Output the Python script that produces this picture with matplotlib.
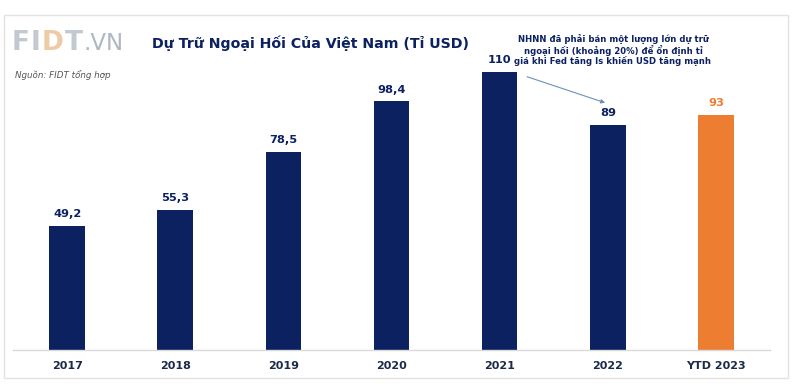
import matplotlib
matplotlib.use("Agg")
import matplotlib.pyplot as plt
from matplotlib.patches import Rectangle

categories = ["2017", "2018", "2019", "2020", "2021", "2022", "YTD 2023"]
values = [49.2, 55.3, 78.5, 98.4, 110, 89, 93]
labels = ["49,2", "55,3", "78,5", "98,4", "110", "89", "93"]
NAVY = "#0b2160"
ORANGE = "#ed7d31"
colors = [NAVY] * 6 + [ORANGE]

plt.rcParams['font.family'] = ['DejaVu Sans']
fig = plt.figure(figsize=(8, 3.86), dpi=100)
W, H = 800, 386

# outer frame
fig.patches.append(Rectangle((4/W, 1 - 378/H), (788-4)/W, (378-15)/H,
                             transform=fig.transFigure, fill=False,
                             edgecolor="#e3e3e3", linewidth=1.0))

ax = fig.add_axes([13/W, 36/H, (770-13)/W, 310/H])
x = list(range(len(categories)))
ax.bar(x, values, width=0.33, color=colors)
ax.set_xlim(-0.5, 6.5)
ax.set_ylim(0, 122.7)
for s in ["top", "right", "left"]:
    ax.spines[s].set_visible(False)
ax.spines["bottom"].set_color("#d9d9d9")
ax.spines["bottom"].set_linewidth(1.0)
ax.set_yticks([])
ax.set_xticks(x)
ax.set_xticklabels(categories, fontsize=8, fontweight="bold", color="#1a2a4a")
ax.tick_params(axis="x", length=0, pad=8)

for i, (v, lab, c) in enumerate(zip(values, labels, colors)):
    ax.text(i, v + 2.7, lab, ha="center", va="bottom", fontsize=8.2,
            fontweight="bold", color=NAVY if c == NAVY else ORANGE)

# annotation
ax.annotate("", xy=(5, values[5] + 8.5), xytext=(4.23, values[4] - 1.5),
            arrowprops=dict(arrowstyle="-|>", color="#6f8fb5", lw=0.8,
                            mutation_scale=6))
fig.text(613/W, 1 - 50/H,
         "NHNN đã phải bán một lượng lớn dự trữ\nngoại hối (khoảng 20%) để ổn định tỉ\ngiá khi Fed tăng ls khiến USD tăng mạnh",
         ha="center", va="center", fontsize=6.1, fontweight="bold", color=NAVY,
         linespacing=1.1)

# title
fig.text(311/W, 1 - 43/H, "Dự Trữ Ngoại Hối Của Việt Nam (Tỉ USD)",
         ha="center", va="center", fontsize=10.2, fontweight="bold", color=NAVY)

# logo (pieces placed one after another)
renderer = fig.canvas.get_renderer()
pieces = [("F", "#c2c9d1", "bold", 19), ("I", "#c2c9d1", "bold", 19),
          ("D", "#efcaa6", "bold", 19), ("T", "#c2c9d1", "bold", 19),
          (".VN", "#aeb7c2", "normal", 16.5)]
xpos = 12
for txt, col, wt, fs in pieces:
    t = fig.text(xpos/W, 1 - 43/H, txt, ha="left", va="center", fontsize=fs,
                 fontweight=wt, color=col)
    bb = t.get_window_extent(renderer)
    xpos += bb.width + 1.0

fig.text(15/W, 1 - 75/H, "Nguồn: FIDT tổng hợp", ha="left", va="center",
         fontsize=6.3, style="italic", color="#555555")

fig.savefig("out.png", dpi=100)
